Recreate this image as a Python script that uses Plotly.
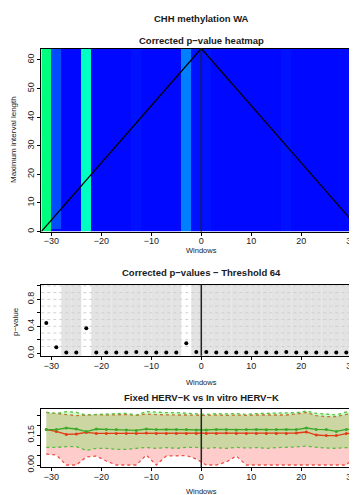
import colorsys
import numpy as np
import plotly.graph_objects as go

# ---------------- data ----------------
windows = [-31, -29, -27, -25, -23, -21, -19, -17, -15, -13, -11, -9, -7, -5, -3, -1,
           1, 3, 5, 7, 9, 11, 13, 15, 17, 19, 21, 23, 25, 27, 29, 31]
pvalues = [0.45, 0.09, 0.01, 0.01, 0.37, 0.01, 0.01, 0.01, 0.01, 0.02, 0.01, 0.01, 0.01, 0.01, 0.15, 0.02,
           0.02, 0.01, 0.01, 0.01, 0.01, 0.01, 0.01, 0.01, 0.02, 0.01, 0.01, 0.01, 0.01, 0.01, 0.01, 0.02]
interval_lengths = list(range(1, 65))
# p-value of column -29 for the shortest interval
short_interval_p_m29 = 0.01

fixed_mean = [0.177, 0.177, 0.185, 0.180, 0.167, 0.180, 0.178, 0.177, 0.175, 0.173, 0.180, 0.177, 0.178, 0.177, 0.177, 0.175,
              0.175, 0.178, 0.177, 0.175, 0.177, 0.178, 0.176, 0.177, 0.178, 0.177, 0.185, 0.178, 0.177, 0.168, 0.178, 0.178]
fixed_upper = [0.263, 0.257, 0.267, 0.263, 0.250, 0.253, 0.255, 0.257, 0.258, 0.250, 0.267, 0.263, 0.262, 0.262, 0.258, 0.255,
               0.253, 0.257, 0.255, 0.257, 0.253, 0.257, 0.258, 0.257, 0.260, 0.262, 0.270, 0.258, 0.255, 0.250, 0.265, 0.262]
fixed_lower = [0.088, 0.088, 0.092, 0.092, 0.073, 0.083, 0.083, 0.078, 0.078, 0.083, 0.088, 0.083, 0.087, 0.083, 0.088, 0.088,
               0.083, 0.087, 0.083, 0.088, 0.085, 0.087, 0.083, 0.087, 0.088, 0.090, 0.095, 0.088, 0.085, 0.083, 0.087, 0.088]
vitro_mean = [0.177, 0.168, 0.153, 0.155, 0.163, 0.158, 0.158, 0.158, 0.158, 0.158, 0.160, 0.158, 0.158, 0.158, 0.158, 0.158,
              0.158, 0.157, 0.160, 0.158, 0.158, 0.158, 0.158, 0.158, 0.158, 0.160, 0.165, 0.150, 0.147, 0.147, 0.157, 0.160]
vitro_upper = [0.263, 0.257, 0.250, 0.247, 0.250, 0.252, 0.250, 0.250, 0.252, 0.248, 0.255, 0.252, 0.250, 0.250, 0.250, 0.248,
               0.248, 0.250, 0.248, 0.250, 0.248, 0.250, 0.250, 0.248, 0.250, 0.255, 0.263, 0.247, 0.242, 0.242, 0.253, 0.258]
vitro_lower = [0.055, 0.050, 0.000, 0.000, 0.040, 0.045, 0.020, 0.000, 0.000, 0.000, 0.050, 0.000, 0.045, 0.047, 0.047, 0.030,
               0.000, 0.000, 0.015, 0.045, 0.000, 0.000, 0.000, 0.000, 0.000, 0.000, 0.000, 0.000, 0.000, 0.000, 0.000, 0.050]

main_title = "CHH methylation WA"
heat_title = "Corrected p\u2212value heatmap"
pval_title = "Corrected p\u2212values \u2212 Threshold 64"
comp_title = "Fixed HERV\u2212K vs In vitro HERV\u2212K"
x_title = "Windows"
heat_ytitle = "Maximum interval length"
pval_ytitle = "p\u2212value"
threshold = 0.05

# ---------------- derived ----------------
OFF = 8  # page body margin
W, H = 357 - OFF, 495 - OFF
half = 1
x_edges = [w - half for w in windows] + [windows[-1] + half]
y_edges = [0] + interval_lengths
z = np.tile(np.array(pvalues, dtype=float), (len(interval_lengths), 1))
z[0, windows.index(-29)] = short_interval_p_m29

stops = np.linspace(0, 1, 21)
colorscale = []
for s in stops:
    hue = (240 - 200 * s) / 360.0
    r, g, b = colorsys.hsv_to_rgb(hue, 1, 1)
    colorscale.append([float(s), f"rgb({int(r*255)},{int(g*255)},{int(b*255)})"])

def fy(px):
    return 1 - (px - OFF) / H

def fx(px):
    return (px - OFF) / W

FONT = "Liberation Sans, Arial, sans-serif"
TXT = "#1a1a1a"
x0_px = 41.3
px_per_unit = 5.0
xr = [x_edges[0], x_edges[0] + (357 - x0_px) / px_per_unit]
xdom = [fx(x0_px), 1]

fig = go.Figure()

# heatmap
fig.add_trace(go.Heatmap(x=x_edges, y=y_edges, z=z, colorscale=colorscale, zmin=0, zmax=1,
                         showscale=False, xaxis="x", yaxis="y", hoverinfo="skip"))

# p-values
fig.add_trace(go.Scatter(x=windows, y=pvalues, mode="markers",
                         marker=dict(color="black", size=4), xaxis="x2", yaxis="y2",
                         showlegend=False))

# comparison bands (red first, then green on top)
GREEN_FILL = "rgba(0,255,0,0.2)"
RED_FILL = "rgba(255,0,0,0.2)"
GREEN_LINE = "rgb(60,170,40)"
RED_LINE = "rgb(225,60,20)"
GREEN_DOT = "rgb(90,190,60)"
RED_DOT = "rgb(240,80,70)"
fig.add_trace(go.Scatter(x=windows, y=vitro_upper, mode="lines", line=dict(color=RED_DOT, width=1.3, dash="dot"),
                         xaxis="x3", yaxis="y3", showlegend=False))
fig.add_trace(go.Scatter(x=windows, y=vitro_lower, mode="lines", line=dict(color=RED_DOT, width=1.3, dash="dot"),
                         fill="tonexty", fillcolor=RED_FILL, xaxis="x3", yaxis="y3", showlegend=False))
fig.add_trace(go.Scatter(x=windows, y=fixed_upper, mode="lines", line=dict(color=GREEN_DOT, width=1.3, dash="dot"),
                         xaxis="x3", yaxis="y3", showlegend=False))
fig.add_trace(go.Scatter(x=windows, y=fixed_lower, mode="lines", line=dict(color=GREEN_DOT, width=1.3, dash="dot"),
                         fill="tonexty", fillcolor=GREEN_FILL, xaxis="x3", yaxis="y3", showlegend=False))
fig.add_trace(go.Scatter(x=windows, y=vitro_mean, mode="lines+markers", line=dict(color=RED_LINE, width=1.3),
                         marker=dict(size=3, color=RED_LINE), xaxis="x3", yaxis="y3", showlegend=False))
fig.add_trace(go.Scatter(x=windows, y=fixed_mean, mode="lines+markers", line=dict(color=GREEN_LINE, width=1.3),
                         marker=dict(size=3, color=GREEN_LINE), xaxis="x3", yaxis="y3", showlegend=False))

xaxis_common = dict(range=xr, domain=xdom, tickvals=[-30, -20, -10, 0, 10, 20, 30],
                    ticktext=["\u221230", "\u221220", "\u221210", "0", "10", "20", "30"],
                    ticks="outside", ticklen=3, tickcolor="black", tickwidth=1,
                    ticklabelstandoff=-2,
                    showline=True, linecolor="black", linewidth=1, mirror=True,
                    showgrid=False, zeroline=False, automargin=False,
                    tickfont=dict(family=FONT, size=9, color=TXT))
yaxis_common = dict(ticks="outside", ticklen=3, tickcolor="black", tickwidth=1, tickangle=-90,
                    showline=True, linecolor="black", linewidth=1, mirror=False,
                    showgrid=False, zeroline=False, automargin=False,
                    tickfont=dict(family=FONT, size=9, color=TXT))

heat_top, heat_bot = 48.5, 231.5
p_top, p_bot = 284.5, 355.7
c_top, c_bot = 409.0, 467.0

fig.update_layout(
    width=W, height=H, margin=dict(l=0, r=0, t=0, b=0, autoexpand=False),
    paper_bgcolor="white", plot_bgcolor="white", showlegend=False,
    xaxis=dict(**xaxis_common, anchor="y"),
    yaxis=dict(**yaxis_common, anchor="x", domain=[fy(heat_bot), fy(heat_top)], range=[0, 64],
               tickvals=[0, 10, 20, 30, 40, 50, 60]),
    xaxis2=dict(**xaxis_common, anchor="y2"),
    yaxis2=dict(**yaxis_common, anchor="x2", domain=[fy(p_bot), fy(p_top)], range=[-0.036, 1.02],
                tickvals=[0, 0.2, 0.4, 0.6, 0.8, 1.0], ticktext=["0.0", "", "0.4", "", "0.8", ""]),
    xaxis3=dict(**xaxis_common, anchor="y3"),
    yaxis3=dict(**yaxis_common, anchor="x3", domain=[fy(c_bot), fy(c_top)], range=[-0.01, 0.28],
                tickvals=[0, 0.05, 0.10, 0.15, 0.20, 0.25], ticktext=["0.00", "", "", "0.15", "", ""]),
)

# shading of significant windows
for w, p in zip(windows, pvalues):
    if p < threshold:
        fig.add_shape(type="rect", xref="x2", yref="y2 domain", x0=w - half, x1=w + half, y0=0, y1=1,
                      fillcolor="#E3E3E3", line=dict(width=0), layer="below")
# dotted grid in p-value plot
for g in np.arange(0.1, 1.01, 0.1):
    fig.add_shape(type="line", xref="x2 domain", yref="y2", x0=0, x1=1, y0=float(g), y1=float(g),
                  line=dict(color="#CFCFCF", width=1, dash="dot"), layer="below")

# diagonal guide lines on heatmap
ymax = interval_lengths[-1]
fig.add_shape(type="line", xref="x", yref="y", x0=x_edges[0], y0=0, x1=0, y1=ymax,
              line=dict(color="black", width=1.2))
fig.add_shape(type="line", xref="x", yref="y", x0=0, y0=ymax, x1=x_edges[-1], y1=0,
              line=dict(color="black", width=1.2))
# vertical line at 0 in each panel
for xa, ya in [("x", "y"), ("x2", "y2"), ("x3", "y3")]:
    fig.add_shape(type="line", xref=xa, yref=f"{ya} domain", x0=0, x1=0, y0=0, y1=1,
                  line=dict(color="#222222", width=1.5))

def ann(text, x, y, size, bold=False, angle=0):
    fig.add_annotation(text=f"<b>{text}</b>" if bold else text, x=fx(x), y=fy(y), xref="paper", yref="paper",
                       showarrow=False, textangle=angle, xanchor="center", yanchor="middle",
                       font=dict(family=FONT, size=size, color=TXT))

ann(main_title, 201, 18.5, 9.5, bold=True)
ann(heat_title, 201, 40.5, 9.5, bold=True)
ann(pval_title, 201, 272.5, 9.5, bold=True)
ann(comp_title, 201, 397, 9.5, bold=True)
ann(x_title, 201, 250.5, 7.5)
ann(x_title, 201, 382, 7.5)
ann(x_title, 201, 491, 7.5)
ann(heat_ytitle, 13, 140, 8, angle=-90)
ann(pval_ytitle, 15, 322, 8, angle=-90)

fig.write_html("out.html")
